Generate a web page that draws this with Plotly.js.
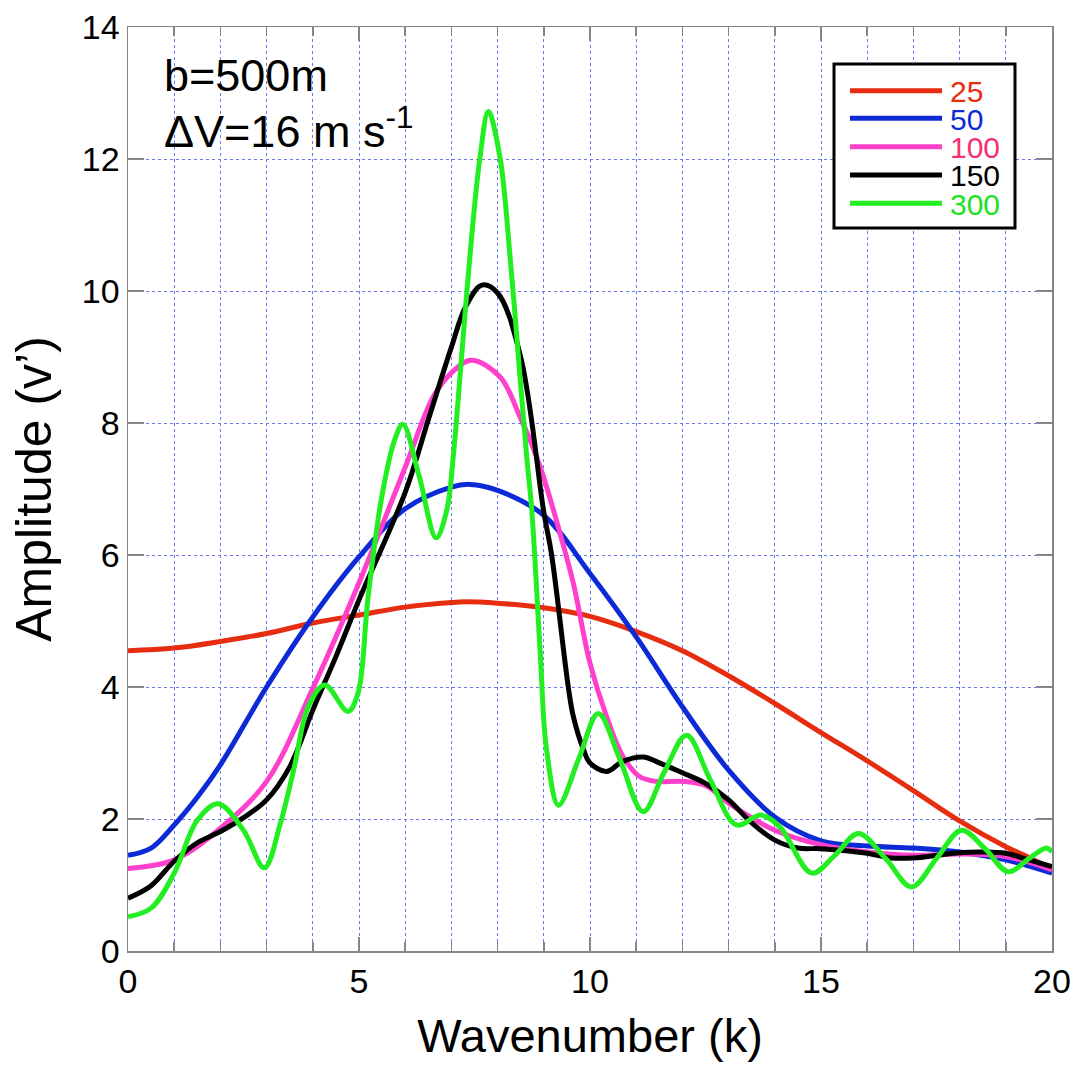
<!DOCTYPE html>
<html>
<head>
<meta charset="utf-8">
<script src="https://cdn.plot.ly/plotly-3.0.1.min.js"></script>
<style>html,body{margin:0;padding:0;background:#fff;}#chart{width:1088px;height:1076px;}</style>
</head>
<body>
<div id="chart"></div>
<script>
// Series labels (b values)
const seriesNames = ["25", "50", "100", "150", "300"];

// Red: 25
const k25 = [0,1,2,3,4,5,6,7,7.3,8,9,10,11,12,13,14,15,16,17,18,19,19.4,20];
const v25 = [4.55,4.59,4.69,4.81,4.97,5.09,5.21,5.28,5.29,5.27,5.20,5.07,4.84,4.55,4.17,3.75,3.31,2.88,2.43,1.97,1.58,1.45,1.24];

// Blue: 50
const k50 = [0,0.5,1,1.5,2,3,4,5,6,7,7.4,8,9,10,11,12,13,14,15,16,17,18,19,20];
const v50 = [1.45,1.56,1.91,2.33,2.82,4.0,5.06,5.97,6.70,7.03,7.07,6.98,6.6,5.72,4.76,3.70,2.74,2.03,1.67,1.59,1.56,1.50,1.38,1.18];

// Pink: 100
const k100 = [0,1,2,3,4,5,6,6.61,7,7.43,8.05,8.48,8.92,9.35,9.64,10,10.36,10.72,11.08,11.44,12,12.52,13,14,15,16,17,18,19,20];
const v100 = [1.25,1.38,1.86,2.57,3.98,5.58,7.33,8.40,8.76,8.95,8.70,8.10,7.34,6.33,5.57,4.36,3.55,2.94,2.64,2.57,2.57,2.50,2.24,1.83,1.61,1.50,1.45,1.47,1.43,1.23];

// Black: 150
const k150 = [0,0.5,1,1.5,2,2.5,3,3.5,4,4.5,5,6,6.5,7,7.3,7.66,8,8.5,9,9.17,9.53,9.64,9.86,10,10.36,10.7,11.15,11.5,12,12.5,13,13.5,14,14.5,15,16,16.5,17,18,18.5,19,19.5,20];
const v150 = [0.80,0.99,1.36,1.64,1.81,2.02,2.29,2.79,3.65,4.46,5.32,6.95,8.05,9.15,9.75,10.09,9.97,9.0,6.65,6.0,4.0,3.55,3.05,2.85,2.72,2.87,2.94,2.85,2.70,2.54,2.29,1.94,1.68,1.56,1.55,1.48,1.41,1.41,1.49,1.50,1.48,1.38,1.28];

// Green: 300
const k300 = [0,0.5,1,1.5,1.95,2.5,2.95,3.3,3.6,3.9,4.26,4.76,4.98,5.19,5.48,5.77,5.95,6.3,6.67,6.9,7.04,7.22,7.4,7.62,7.8,8.05,8.27,8.45,8.63,8.74,8.92,9.06,9.32,9.75,10.18,10.65,11.15,11.6,12.09,12.6,13.17,13.7,14.11,14.8,15.3,15.81,16.4,16.96,17.5,18.04,18.55,19.05,19.5,19.88,20];
const v300 = [0.52,0.65,1.18,1.98,2.23,1.83,1.26,1.94,2.79,3.70,4.03,3.63,3.91,5.32,6.83,7.74,7.98,7.2,6.26,6.68,7.49,9.0,10.52,12.03,12.72,12.03,10.52,9.0,7.49,6.68,4.56,3.05,2.21,2.9,3.60,2.9,2.11,2.7,3.27,2.6,1.91,2.06,1.88,1.18,1.45,1.78,1.4,0.97,1.4,1.83,1.55,1.20,1.4,1.56,1.50];

const xTickVals = [0,5,10,15,20];
const yTickVals = [0,2,4,6,8,10,12,14];

const lineColors = ["#e62d10", "#0c2bd6", "#ff40cc", "#000000", "#22ee22"];
const textColors = ["#e62d10", "#0c2bd6", "#f5306e", "#000000", "#22e022"];
const xs = [k25, k50, k100, k150, k300];
const ys = [v25, v50, v100, v150, v300];

const traces = seriesNames.map((n, i) => ({
  x: xs[i], y: ys[i], type: "scatter", mode: "lines", name: n,
  line: {color: lineColors[i], width: 5, shape: "spline", smoothing: 1},
  hoverinfo: "skip", showlegend: false
}));

const FONT = "Liberation Sans, Arial, Helvetica, sans-serif";
const gridColor = "#6a78f5";
const frameColor = "#858585";

// plot area: x 128..1052, y 27..951
const L = 128, T = 27, W = 924, H = 924;
const px = v => (v - L) / W;
const py = v => (T + H - v) / H;

const shapes = [
  // white backing behind the note text
  {type: "rect", xref: "paper", yref: "paper", x0: px(158), x1: px(427), y0: py(166), y1: py(46),
   fillcolor: "#ffffff", line: {width: 0}, layer: "between"},
  // legend box
  {type: "rect", xref: "paper", yref: "paper", x0: px(834), x1: px(1015), y0: py(228), y1: py(64),
   fillcolor: "#ffffff", line: {color: "#000000", width: 3}, layer: "above"}
];
const legendRows = [90.7, 118.3, 146.7, 175, 203.3];
const annotations = [];
seriesNames.forEach((n, i) => {
  shapes.push({type: "line", xref: "paper", yref: "paper", x0: px(850), x1: px(942),
    y0: py(legendRows[i]), y1: py(legendRows[i]), line: {color: lineColors[i], width: 5}, layer: "above"});
  annotations.push({xref: "paper", yref: "paper", x: px(949), y: py(legendRows[i] + 1), xanchor: "left", yanchor: "middle",
    text: n, showarrow: false, borderpad: 0,
    font: {family: FONT, size: 30, color: textColors[i]}});
});
annotations.push({xref: "paper", yref: "paper", x: px(162), y: py(75), xanchor: "left", yanchor: "middle",
  text: "b=500m", showarrow: false, font: {family: FONT, size: 45, color: "#000"}});
annotations.push({xref: "paper", yref: "paper", x: px(162), y: py(128), xanchor: "left", yanchor: "middle",
  text: "\u0394V=16 m s<sup>-1</sup>", showarrow: false, font: {family: FONT, size: 45, color: "#000"}});

const layout = {
  width: 1088, height: 1076,
  margin: {l: L, r: 1088 - L - W, t: T, b: 1076 - T - H},
  paper_bgcolor: "#ffffff", plot_bgcolor: "#ffffff",
  font: {family: FONT, color: "#000"},
  showlegend: false,
  xaxis: {
    range: [0, 20], tickmode: "array", tickvals: xTickVals, ticktext: xTickVals.map(String),
    ticks: "inside", ticklen: 14, tickwidth: 1.5, tickcolor: frameColor,
    showline: true, linecolor: frameColor, linewidth: 1.5, mirror: "allticks",
    showgrid: true, gridcolor: gridColor, gridwidth: 1, griddash: "3px,3px", zeroline: false,
    minor: {dtick: 1, tick0: 0, ticks: "inside", ticklen: 9, tickwidth: 1.5, tickcolor: frameColor,
            showgrid: true, gridcolor: gridColor, gridwidth: 1, griddash: "3px,3px"},
    tickfont: {family: FONT, size: 34, color: "#000"},
    title: {text: "Wavenumber (k)", font: {family: FONT, size: 47, color: "#000"}, standoff: 20}
  },
  yaxis: {
    range: [0, 14], tickmode: "array", tickvals: yTickVals, ticktext: yTickVals.map(String),
    ticks: "inside", ticklen: 16, tickwidth: 1.5, tickcolor: frameColor,
    showline: true, linecolor: frameColor, linewidth: 1.5, mirror: "allticks",
    showgrid: true, gridcolor: gridColor, gridwidth: 1, griddash: "3px,3px", zeroline: false,
    tickfont: {family: FONT, size: 34, color: "#000"},
    title: {text: "Amplitude (v\u2019)", font: {family: FONT, size: 50, color: "#000"}, standoff: 14}
  },
  shapes: shapes,
  annotations: annotations
};

Plotly.newPlot("chart", traces, layout, {displayModeBar: false, staticPlot: true});
</script>
</body>
</html>
